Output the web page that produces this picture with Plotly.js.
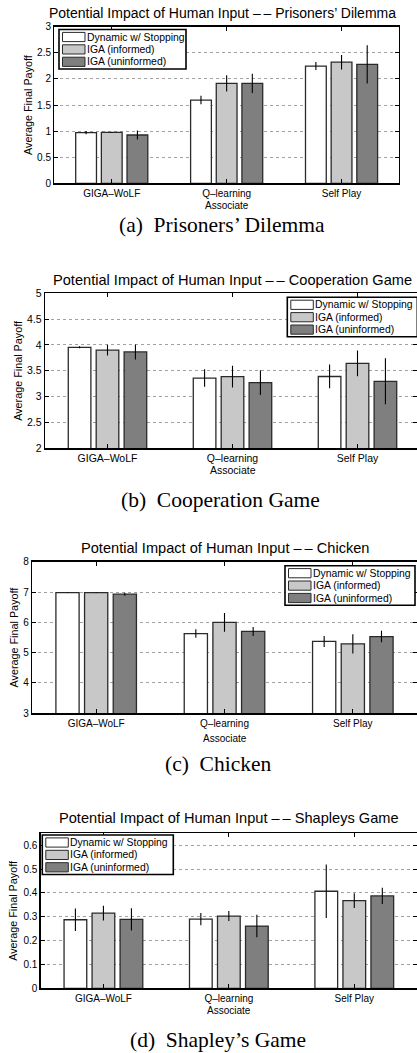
<!DOCTYPE html>
<html><head><meta charset="utf-8">
<script src="https://cdn.plot.ly/plotly-3.0.1.min.js"></script>
<style>html,body{margin:0;padding:0;background:#fff}#plot{width:417px;height:1053px}</style>
</head><body><div id="plot"></div>
<script>
const categories = ['GIGA\u2013WoLF', 'Q\u2013learning', 'Self Play'];
const seriesNames = ['Dynamic w/ Stopping', 'IGA (informed)', 'IGA (uninformed)'];
const panelTitles = [
  'Potential Impact of Human Input \u2013\u2009\u2013 Prisoners\u2019 Dilemma',
  'Potential Impact of Human Input \u2013\u2009\u2013 Cooperation Game',
  'Potential Impact of Human Input \u2013\u2009\u2013 Chicken',
  'Potential Impact of Human Input \u2013\u2009\u2013 Shapleys Game'
];
const captions = ['(a)\u2002Prisoners\u2019 Dilemma', '(b)\u2002Cooperation Game', '(c)\u2002Chicken', '(d)\u2002Shapley\u2019s Game'];
const yLabel = 'Average Final Payoff';
const xLabel = 'Associate';

// Prisoners' Dilemma
const pdDynamic = [0.97, 1.595, 2.246];
const pdDynamicErr = [0.03, 0.08, 0.077];
const pdInformed = [0.975, 1.915, 2.32];
const pdInformedErr = [0.01, 0.155, 0.14];
const pdUninformed = [0.925, 1.915, 2.28];
const pdUninformedErr = [0.085, 0.185, 0.367];
// Cooperation Game
const coopDynamic = [3.955, 3.36, 3.39];
const coopDynamicErr = [0.02, 0.17, 0.23];
const coopInformed = [3.90, 3.387, 3.645];
const coopInformedErr = [0.105, 0.21, 0.25];
const coopUninformed = [3.865, 3.27, 3.297];
const coopUninformedErr = [0.145, 0.24, 0.445];
// Chicken
const chickenDynamic = [6.98, 5.63, 5.37];
const chickenDynamicErr = [0.01, 0.14, 0.18];
const chickenInformed = [6.98, 6.0, 5.29];
const chickenInformedErr = [0.01, 0.31, 0.32];
const chickenUninformed = [6.93, 5.70, 5.53];
const chickenUninformedErr = [0.05, 0.15, 0.19];
// Shapley's Game
const shapleyDynamic = [0.2875, 0.29, 0.407];
const shapleyDynamicErr = [0.047, 0.026, 0.112];
const shapleyInformed = [0.315, 0.303, 0.368];
const shapleyInformedErr = [0.031, 0.021, 0.031];
const shapleyUninformed = [0.289, 0.261, 0.3875];
const shapleyUninformedErr = [0.047, 0.047, 0.034];

const panels = [
  {vals:[pdDynamic,pdInformed,pdUninformed], errs:[pdDynamicErr,pdInformedErr,pdUninformedErr], yr:[0,3], dt:0.5, px:[54.3,399], py:[26.7,183.3], xr:[-0.5,2.5], leg:{x:59,y:29.5,w:127}},
  {vals:[coopDynamic,coopInformed,coopUninformed], errs:[coopDynamicErr,coopInformedErr,coopUninformedErr], yr:[2,5], dt:0.5, px:[45,417], py:[293.3,448.3], xr:[-0.5,2.476], leg:{x:287.3,y:297.3,w:130}},
  {vals:[chickenDynamic,chickenInformed,chickenUninformed], errs:[chickenDynamicErr,chickenInformedErr,chickenUninformedErr], yr:[3,8], dt:1, px:[32,417], py:[561.7,713.3], xr:[-0.5,2.5], leg:{x:285,y:565.7,w:130}},
  {vals:[shapleyDynamic,shapleyInformed,shapleyUninformed], errs:[shapleyDynamicErr,shapleyInformedErr,shapleyUninformedErr], yr:[0,0.65], dt:0.1, px:[40.7,417], py:[833.3,988.3], xr:[-0.5,2.5], leg:{x:42.3,y:835,w:131}}
];
const titleY = [13, 280, 548, 818];
const titleX = [222, 232, 225, 229];
const titleSize = [14, 14.6, 14.6, 14.6];
const tickSize = [10, 10.5, 10, 10];
const capY = [225, 500, 764, 1040];
const capX = [222, 220, 218, 218];
const ylabX = [28, 18, 13, 13];
const assocY = [205.5, 470.5, 738, 1010.5];

const W = 417, H = 1053;
const colors = ['#ffffff', '#c8c8c8', '#7f7f7f'];
const font = 'Liberation Sans, Arial, Helvetica, sans-serif';
const traces = [];
const layout = {
  width: W, height: H, margin:{l:0,r:0,t:0,b:0},
  paper_bgcolor:'#fff', plot_bgcolor:'#fff',
  barmode:'group', bargap:0.33, bargroupgap:0.19, showlegend:false,
  font:{family:font, size:10, color:'#000'},
  annotations:[], shapes:[]
};
const px2x = v => v / W;
const px2y = v => 1 - v / H;
panels.forEach((p, i) => {
  const n = i === 0 ? '' : String(i + 1);
  for (let s = 0; s < 3; s++) {
    traces.push({
      type:'bar', x:categories, y:p.vals[s], name:seriesNames[s],
      xaxis:'x'+n, yaxis:'y'+n,
      marker:{color:colors[s], line:{color:'#2a2a2a', width:1.3}},
      error_y:{type:'data', array:p.errs[s], color:'#000', thickness:1.1, width:0},
      hoverinfo:'skip'
    });
  }
  layout['xaxis'+n] = {
    domain:[p.px[0]/W, p.px[1]/W], range:p.xr, anchor:'y'+n, type:'category',
    showline:true, linecolor:'#000', linewidth:1.5, mirror:'ticks',
    ticks:'inside', ticklen:4, tickcolor:'#000', showgrid:false, zeroline:false,
    tickfont:{size:tickSize[i], family:font}, fixedrange:true
  };
  layout['yaxis'+n] = {
    domain:[1 - p.py[1]/H, 1 - p.py[0]/H], range:p.yr, dtick:p.dt, anchor:'x'+n,
    showline:true, linecolor:'#000', linewidth:1.3, mirror:'ticks',
    ticks:'inside', ticklen:4, tickcolor:'#000', zeroline:false,
    showgrid:true, gridcolor:'#8a8a8a', griddash:'dot', gridwidth:0.8,
    tickfont:{size:tickSize[i], family:font}, fixedrange:true
  };
  const L = p.leg.x, T = p.leg.y;
  layout.shapes.push({type:'rect', xref:'paper', yref:'paper', x0:px2x(L), x1:px2x(L + p.leg.w), y0:px2y(T), y1:px2y(T + 39.5), fillcolor:'#fff', line:{color:'#000', width:1.6}, layer:'above'});
  for (let s = 0; s < 3; s++) {
    const cy = T + 7.5 + s * 12.4;
    layout.shapes.push({type:'rect', xref:'paper', yref:'paper', x0:px2x(L + 3.5), x1:px2x(L + 26), y0:px2y(cy - 4.6), y1:px2y(cy + 4.6), fillcolor:colors[s], line:{color:'#2a2a2a', width:1}, layer:'above'});
    layout.annotations.push({text:seriesNames[s], xref:'paper', yref:'paper', x:px2x(L + 27), y:px2y(cy), showarrow:false, xanchor:'left', yanchor:'middle', font:{size:10.4, family:font}, borderpad:0});
  }
  layout.annotations.push(
    {text:panelTitles[i], xref:'paper', yref:'paper', x:titleX[i]/W, y:1-titleY[i]/H, showarrow:false, xanchor:'center', yanchor:'middle', font:{size:titleSize[i], family:font}},
    {text:captions[i], xref:'paper', yref:'paper', x:capX[i]/W, y:1-capY[i]/H, showarrow:false, xanchor:'center', yanchor:'middle', font:{size:21.5, family:'Liberation Serif, Times New Roman, serif'}},
    {text:yLabel, xref:'paper', yref:'paper', x:ylabX[i]/W, y:1-((p.py[0]+p.py[1])/2)/H, showarrow:false, textangle:-90, xanchor:'center', yanchor:'middle', font:{size:10.8, family:font}},
    {text:xLabel, xref:'x'+n, yref:'paper', x:1, y:1-assocY[i]/H, showarrow:false, xanchor:'center', yanchor:'middle', font:{size:tickSize[i], family:font}, borderpad:0}
  );
});
Plotly.newPlot('plot', traces, layout, {staticPlot:true, displayModeBar:false});
</script></body></html>
